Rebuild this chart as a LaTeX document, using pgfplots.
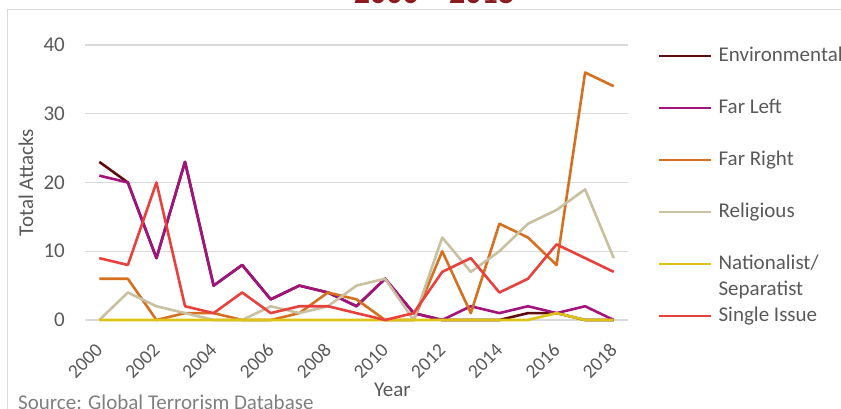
\documentclass[border=0pt]{standalone}
\usepackage{fontspec}
\setmainfont{Carlito}
\usepackage{pgfplots}
\pgfplotsset{compat=1.18}
\definecolor{env}{RGB}{94,12,12}
\definecolor{farleft}{RGB}{163,18,125}
\definecolor{farright}{RGB}{214,112,30}
\definecolor{religious}{RGB}{200,192,160}
\definecolor{nat}{RGB}{220,195,20}
\definecolor{single}{RGB}{234,64,60}
\definecolor{titlered}{RGB}{140,26,30}
\definecolor{gridgray}{RGB}{217,217,217}
\definecolor{labelgray}{RGB}{89,89,89}
\definecolor{sourcegray}{RGB}{127,127,127}
\begin{document}
\fontsize{21}{25}\selectfont
\begin{tikzpicture}[x=1pt,y=1pt]
\useasboundingbox (0,0) rectangle (841,409);
\draw[gridgray, line width=1.3pt] (7.5,-20) -- (7.5,399.5) -- (900,399.5);
\node[anchor=base, font=\fontsize{32}{36}\selectfont\bfseries, text=titlered, inner sep=0pt] at (434,405) {2000 -- 2018};
\node[anchor=base west, text=sourcegray, inner sep=0pt] at (18,-0.5) {Source: Global Terrorism Database};
\begin{axis}[
  at={(85pt,89pt)}, anchor=south west,
  width=543pt, height=275pt, scale only axis,
  xmin=1999.5, xmax=2018.5, ymin=0, ymax=40,
  xtick={2000,2002,...,2018}, ytick={0,10,20,30,40},
  /pgf/number format/1000 sep={},
  /pgf/number format/assume math mode=true,
  major tick length=0pt,
  axis line style={draw=none},
  ymajorgrids, grid style={gridgray, line width=1.3pt},
  clip=false,
  tick label style={font=\fontsize{21}{25}\selectfont, text=labelgray},
  xticklabel style={yshift=-27pt, rotate=45, anchor=east, inner sep=0pt, font=\fontsize{19.5}{23}\selectfont},
  yticklabel style={anchor=east, inner sep=0pt, xshift=-20pt},
  xlabel={Year},
  every axis x label/.style={at={(axis description cs:0.5663,-0.28)}, anchor=base, text=labelgray, inner sep=0pt},
  ylabel={Total Attacks},
  every axis y label/.style={at={(axis description cs:-0.1087,0.5)}, rotate=90, anchor=center, text=labelgray, inner sep=0pt},
  legend style={at={(axis description cs:1.05525,0.9975)}, anchor=north west, draw=none, fill=none, inner sep=0pt, outer sep=0pt, row sep=31pt, column sep=6pt, font=\fontsize{21}{25}\selectfont, text=labelgray, nodes={inner sep=0pt, text height=16pt, text depth=5pt}},
  legend cell align=left,
  legend image code/.code={\draw[#1, line width=2.6pt] (0pt,0pt) -- (52pt,0pt); \path (0pt,7pt);},
  every axis plot/.append style={line width=2.6pt, line join=round},
]
\addplot[env, mark=none] coordinates {(2000,23)(2001,20)(2002,9)(2003,23)(2004,5)(2005,8)(2006,3)(2007,5)(2008,4)(2009,2)(2010,6)(2011,1)(2012,0)(2013,0)(2014,0)(2015,1)(2016,1)(2017,0)(2018,0)};
\addlegendentry{Environmental}
\addplot[farleft, mark=none] coordinates {(2000,21)(2001,20)(2002,9)(2003,23)(2004,5)(2005,8)(2006,3)(2007,5)(2008,4)(2009,2)(2010,6)(2011,1)(2012,0)(2013,2)(2014,1)(2015,2)(2016,1)(2017,2)(2018,0)};
\addlegendentry{Far Left}
\addplot[farright, mark=none] coordinates {(2000,6)(2001,6)(2002,0)(2003,1)(2004,1)(2005,0)(2006,0)(2007,1)(2008,4)(2009,3)(2010,0)(2011,0)(2012,10)(2013,1)(2014,14)(2015,12)(2016,8)(2017,36)(2018,34)};
\addlegendentry{Far Right}
\addplot[religious, mark=none] coordinates {(2000,0)(2001,4)(2002,2)(2003,1)(2004,0)(2005,0)(2006,2)(2007,1)(2008,2)(2009,5)(2010,6)(2011,0)(2012,12)(2013,7)(2014,10)(2015,14)(2016,16)(2017,19)(2018,9)};
\addlegendentry{Religious}
\addplot[nat, mark=none] coordinates {(2000,0)(2001,0)(2002,0)(2003,0)(2004,0)(2005,0)(2006,0)(2007,0)(2008,0)(2009,0)(2010,0)(2011,0)(2012,0)(2013,0)(2014,0)(2015,0)(2016,1)(2017,0)(2018,0)};
\addlegendentry{\rlap{\raisebox{-26pt}[0pt][0pt]{Separatist}}Nationalist/}
\addplot[single, mark=none] coordinates {(2000,9)(2001,8)(2002,20)(2003,2)(2004,1)(2005,4)(2006,1)(2007,2)(2008,2)(2009,1)(2010,0)(2011,1)(2012,7)(2013,9)(2014,4)(2015,6)(2016,11)(2017,9)(2018,7)};
\addlegendentry{Single Issue}
\end{axis}
\end{tikzpicture}
\end{document}
